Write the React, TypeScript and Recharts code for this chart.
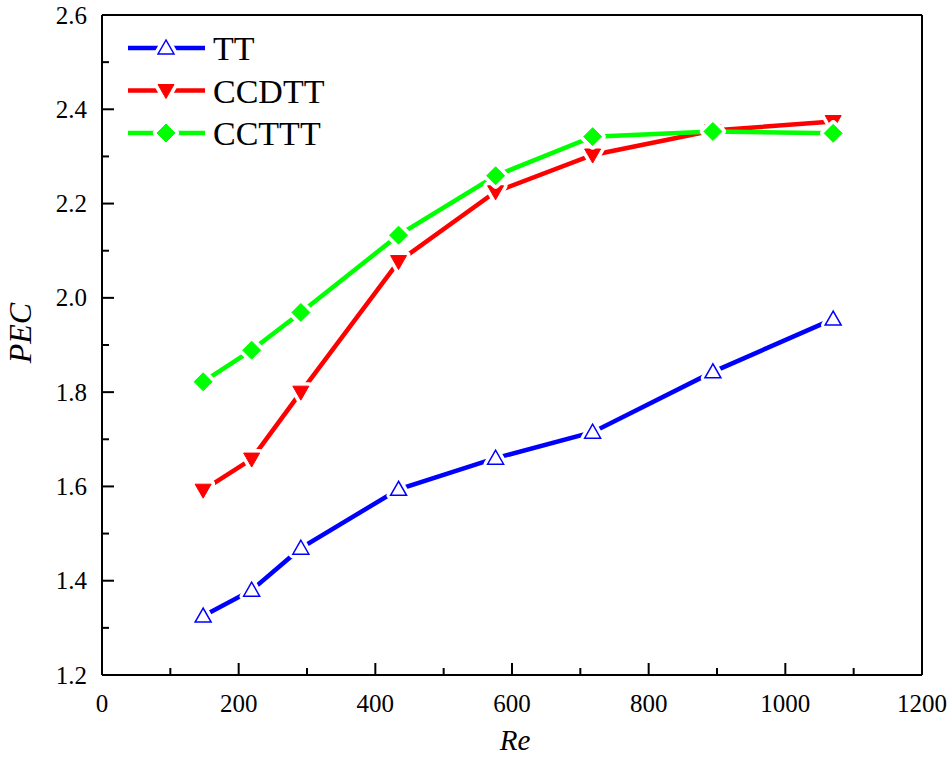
import { LineChart, Line, XAxis, YAxis, ReferenceLine, Legend } from 'recharts';

// Re values (x) and PEC per tube type
const RE = [148, 219, 291, 434, 576, 718, 894, 1070];
const TT = [1.325, 1.38, 1.469, 1.594, 1.66, 1.715, 1.843, 1.955];
const CCDTT = [1.592, 1.658, 1.8, 2.077, 2.225, 2.303, 2.355, 2.374];
const CCTTT = [1.822, 1.889, 1.969, 2.133, 2.259, 2.342, 2.353, 2.349];

const X_TICKS = [0, 100, 200, 300, 400, 500, 600, 700, 800, 900, 1000, 1100, 1200];
const Y_TICKS = [1.2, 1.3, 1.4, 1.5, 1.6, 1.7, 1.8, 1.9, 2.0, 2.1, 2.2, 2.3, 2.4, 2.5, 2.6];

const data = RE.map((re, i) => ({ re, TT: TT[i], CCDTT: CCDTT[i], CCTTT: CCTTT[i] }));

const FONT = 'Liberation Serif, Times New Roman, serif';

const SERIES = [
  { key: 'TT', color: '#0000ff', shape: 'up' },
  { key: 'CCDTT', color: '#ff0000', shape: 'down' },
  { key: 'CCTTT', color: '#00ff00', shape: 'diamond' },
];

const shapePoints = (shape: string, cx: number, cy: number) => {
  if (shape === 'up') return `${cx},${cy - 8} ${cx - 8},${cy + 6} ${cx + 8},${cy + 6}`;
  if (shape === 'down') return `${cx - 8},${cy - 6} ${cx + 8},${cy - 6} ${cx},${cy + 8}`;
  return `${cx},${cy - 9} ${cx + 9},${cy} ${cx},${cy + 9} ${cx - 9},${cy}`;
};

const Marker = ({ shape, color, cx, cy }: any) => {
  const pts = shapePoints(shape, cx, cy);
  const hollow = shape === 'up';
  return (
    <g>
      {/* white halo so the line stops short of the marker */}
      <polygon points={pts} fill="#fff" stroke="#fff" strokeWidth={8} strokeLinejoin="round" />
      <polygon
        points={pts}
        fill={hollow ? '#fff' : color}
        stroke={color}
        strokeWidth={hollow ? 1.5 : 1}
      />
    </g>
  );
};

const XTick = ({ x, y, payload }: any) => {
  const v = payload.value;
  const major = v % 200 === 0;
  return (
    <g>
      <line x1={x} x2={x} y1={y} y2={y - (major ? 12 : 7)} stroke="#000" strokeWidth={2} />
      {major && (
        <text x={x} y={y + 37} textAnchor="middle" style={{ fontFamily: FONT, fontSize: 25 }} fill="#000">
          {v}
        </text>
      )}
    </g>
  );
};

const YTick = ({ x, y, payload }: any) => {
  const v = payload.value;
  const major = Math.round(v * 10) % 2 === 0;
  return (
    <g>
      <line x1={x} x2={x + (major ? 12 : 7)} y1={y} y2={y} stroke="#000" strokeWidth={2} />
      {major && (
        <text x={x - 15} y={y + 8.5} textAnchor="end" style={{ fontFamily: FONT, fontSize: 25 }} fill="#000">
          {v.toFixed(1)}
        </text>
      )}
    </g>
  );
};

const renderLegend = () => (
  <svg width={400} height={160}>
    {SERIES.map((s, i) => {
      const cy = 48 + i * 42.5;
      return (
        <g key={s.key}>
          <line x1={128} x2={205} y1={cy} y2={cy} stroke={s.color} strokeWidth={4.5} />
          <Marker shape={s.shape} color={s.color} cx={166} cy={cy} />
          <text x={213} y={cy + 12} style={{ fontFamily: FONT, fontSize: 34 }} fill="#000">
            {s.key}
          </text>
        </g>
      );
    })}
  </svg>
);

export default function App() {
  return (
    <div style={{ position: 'absolute', left: 0, top: 0, width: 950, height: 760, background: '#fff' }}>
      <LineChart width={950} height={760} data={data} margin={{ top: 15, right: 28, bottom: 0, left: 0 }}>
        <XAxis
          dataKey="re"
          type="number"
          domain={[0, 1200]}
          ticks={X_TICKS}
          interval={0}
          height={85}
          tickSize={0}
          tickMargin={0}
          tickLine={false}
          axisLine={{ stroke: '#000', strokeWidth: 2 }}
          tick={<XTick />}
          label={{
            content: () => (
              <text x={515} y={750} textAnchor="middle" style={{ fontFamily: FONT, fontSize: 29, fontStyle: 'italic' }} fill="#000">
                Re
              </text>
            ),
          }}
        />
        <YAxis
          type="number"
          domain={[1.2, 2.6]}
          ticks={Y_TICKS}
          interval={0}
          width={102}
          tickSize={0}
          tickMargin={0}
          tickLine={false}
          axisLine={{ stroke: '#000', strokeWidth: 2 }}
          tick={<YTick />}
          label={{
            content: () => (
              <text
                x={31}
                y={333}
                transform="rotate(-90, 31, 333)"
                textAnchor="middle"
                style={{ fontFamily: FONT, fontSize: 32, fontStyle: 'italic' }}
                fill="#000"
              >
                PEC
              </text>
            ),
          }}
        />
        <ReferenceLine y={2.6} stroke="#000" strokeWidth={2} />
        <ReferenceLine x={1200} stroke="#000" strokeWidth={2} />
        <Legend
          layout="vertical"
          align="center"
          verticalAlign="middle"
          content={renderLegend}
          wrapperStyle={{ left: 0, top: 0, width: 400, height: 160 }}
        />
        {SERIES.map((s) => (
          <Line
            key={s.key}
            dataKey={s.key}
            stroke={s.color}
            strokeWidth={4.5}
            isAnimationActive={false}
            dot={(p: any) => <Marker key={`${s.key}-${p.index}`} shape={s.shape} color={s.color} cx={p.cx} cy={p.cy} />}
            activeDot={false}
          />
        ))}
      </LineChart>
    </div>
  );
}
